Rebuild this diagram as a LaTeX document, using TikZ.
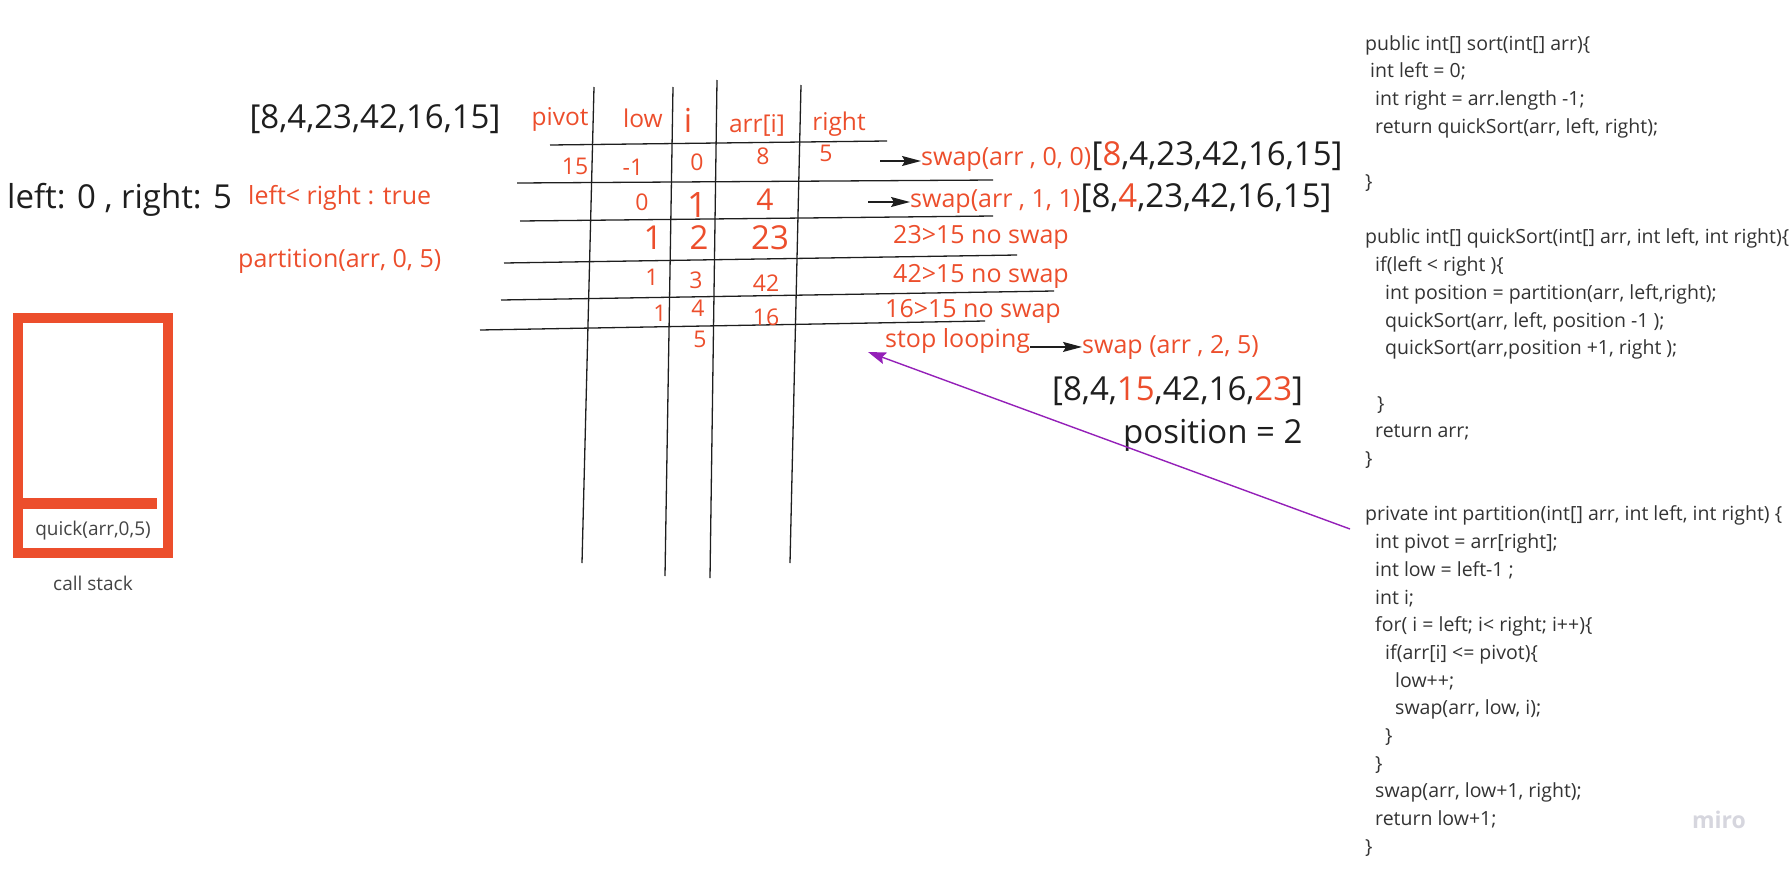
\documentclass[tikz,border=0pt]{standalone}
\usepackage{fontspec}
\setmainfont{Open Sans}
\usepackage{tikz}
\usetikzlibrary{positioning,arrows.meta}
\definecolor{qsred}{HTML}{EC4E2C}
\definecolor{qsink}{HTML}{1E1E1E}
\definecolor{qscode}{HTML}{333333}
\definecolor{qsgray}{HTML}{444444}
\definecolor{qspurple}{HTML}{9420B8}
\definecolor{qsmiro}{HTML}{D6D6DE}
\newcommand{\fsz}[1]{\fontsize{#1}{#1}\selectfont}
\newcommand{\hot}[1]{\textcolor{qsred}{#1}}
\newcommand{\codeind}[1]{\hspace*{#1pt}}

\begin{document}
\begin{tikzpicture}[x=1pt,y=-1pt,
  note/.style={inner sep=0pt,text=qsred,font=\fsz{25}},
  head/.style={inner sep=0pt,text=qsred,font=\fsz{24.5},anchor=base},
  cell/.style={inner sep=0pt,text=qsred,font=\fsz{23},anchor=base},
  big/.style={inner sep=0pt,text=qsink,font=\fsz{33}},
  code/.style={inner sep=0pt,text=qscode,align=left,
    font=\fontsize{19.5}{27.7}\selectfont},
  stacktxt/.style={inner sep=0pt,text=qsgray,font=\fsz{19},anchor=base},
  gridline/.style={draw=qsink,line width=1.3pt},
  arr/.style={-{Stealth[length=19pt,width=10pt,inset=3pt]},line width=1.3pt,draw=qsink},
  callback/.style={-{Stealth[length=18pt,width=12pt,inset=3pt]},line width=1.4pt,draw=qspurple}
]
  \useasboundingbox (0,0) rectangle (1789,873);

  % call stack
  \draw[qsred,line width=10pt] (18,318) rectangle (168,553);
  \draw[qsred,line width=11pt] (13,503.5) -- (157,503.5);
  \node[stacktxt] (frame)    at (93,535) {quick(arr,0,5)};
  \node[stacktxt] (stacklbl) at (93,590) {call stack};

  % left notes
  \node[big,anchor=base]       (input)  at (375,128) {[8,4,23,42,16,15]};
  \node[big,anchor=base west]  (bounds) at (7,208)   {left: 0 , right: 5};
  \node[note,anchor=base west] (cond)   at (248,204) {left< right : true};
  \node[note,anchor=base west] (part)   at (238,267) {partition(arr, 0, 5)};

  % table
  \foreach \xa/\ya/\xb/\yb in {594/87/582/563, 673/87/665/576, 717/80/710/578,
      801/85/790/563, 550/145/887/141, 517/183/993/180, 520/221/993/216,
      504/263/1017/255, 501/300/1054/291, 480/330/985/321}
    \draw[gridline] (\xa,\ya) -- (\xb,\yb);

  \node[head] (hpivot) at (560,125) {pivot};
  \node[head] (hlow)   at (643,127) {low};
  \node[head,font=\fsz{33}] (hi) at (688,132) {i};
  \node[head] (harr)   at (757,132) {arr[i]};
  \node[head] (hright) at (839,130) {right};

  \node[cell] (pivA) at (575,174) {15};
  \node[cell] (lowA) at (633,175) {-1};
  \node[cell] (iA)   at (697,170) {0};
  \node[cell] (valA) at (763,164) {8};
  \node[cell] (rgtA) at (826,161) {5};

  \node[cell] (lowB) at (642,210) {0};
  \node[cell,font=\fsz{35}] (iB)   at (697,217) {1};
  \node[cell,font=\fsz{30}] (valB) at (765,210) {4};

  \node[cell,font=\fsz{33}] (lowC) at (653,249) {1};
  \node[cell,font=\fsz{33}] (iC)   at (699,249) {2};
  \node[cell,font=\fsz{33}] (valC) at (770,249) {23};

  \node[cell] (lowD) at (652,285) {1};
  \node[cell] (iD)   at (696,288) {3};
  \node[cell] (valD) at (766,291) {42};

  \node[cell] (lowE) at (660,321) {1};
  \node[cell] (iE)   at (698,316) {4};
  \node[cell] (valE) at (766,325) {16};

  \node[cell] (iF)   at (700,347) {5};

  % steps
  \node[note,anchor=base west] (swapA) at (921,165) {swap(arr , 0, 0)};
  \node[big,base right=0pt of swapA] (arrA) {[\hot{8},4,23,42,16,15]};
  \node[note,anchor=base west] (swapB) at (910,207) {swap(arr , 1, 1)};
  \node[big,base right=0pt of swapB] (arrB) {[8,\hot{4},23,42,16,15]};
  \node[note,anchor=base west] (skipC) at (893,243) {23>15 no swap};
  \node[note,anchor=base west] (skipD) at (893,282) {42>15 no swap};
  \node[note,anchor=base west] (skipE) at (885,317) {16>15 no swap};
  \node[note,anchor=base west] (stop)  at (885,347) {stop looping};
  \node[note,anchor=base west] (swapF) at (1082,353) {swap (arr , 2, 5)};
  \node[big,anchor=base west] (result) at (1052,400) {[8,4,\hot{15},42,16,\hot{23}]};
  \node[big,anchor=base west] (pos)    at (1123,443) {position = 2};

  \coordinate (tailA) at (880,161);
  \coordinate (tailB) at (868,202);
  \draw[arr] (tailA) -- (tailA -| swapA.west);
  \draw[arr] (tailB) -- (tailB -| swapB.west);
  \draw[arr] (stop.east |- swapF.west) -- (swapF.west);

  % source code
  \node[code,anchor=north west] (src) at (1365,35) {%
public int[] sort(int[] arr)\{\\
\codeind{5}int left = 0;\\
\codeind{10}int right = arr.length -1;\\
\codeind{10}return quickSort(arr, left, right);\\
\\
\}\\
\\
public int[] quickSort(int[] arr, int left, int right)\{\\
\codeind{10}if(left < right )\{\\
\codeind{20}int position = partition(arr, left,right);\\
\codeind{20}quickSort(arr, left, position -1 );\\
\codeind{20}quickSort(arr,position +1, right );\\
\\
\codeind{12}\}\\
\codeind{10}return arr;\\
\}\\
\\
private int partition(int[] arr, int left, int right) \{\\
\codeind{10}int pivot = arr[right];\\
\codeind{10}int low = left-1 ;\\
\codeind{10}int i;\\
\codeind{10}for( i = left; i< right; i++)\{\\
\codeind{20}if(arr[i] <= pivot)\{\\
\codeind{30}low++;\\
\codeind{30}swap(arr, low, i);\\
\codeind{20}\}\\
\codeind{10}\}\\
\codeind{10}swap(arr, low+1, right);\\
\codeind{10}return low+1;\\
\}};

  \coordinate (callsite) at (1350,529);
  \coordinate (loopend)  at (868,352);
  \draw[callback] (callsite) -- (loopend);

  \node[text=qsmiro,font=\bfseries\fsz{23},anchor=base] (brand) at (1719,828) {miro};
\end{tikzpicture}
\end{document}
